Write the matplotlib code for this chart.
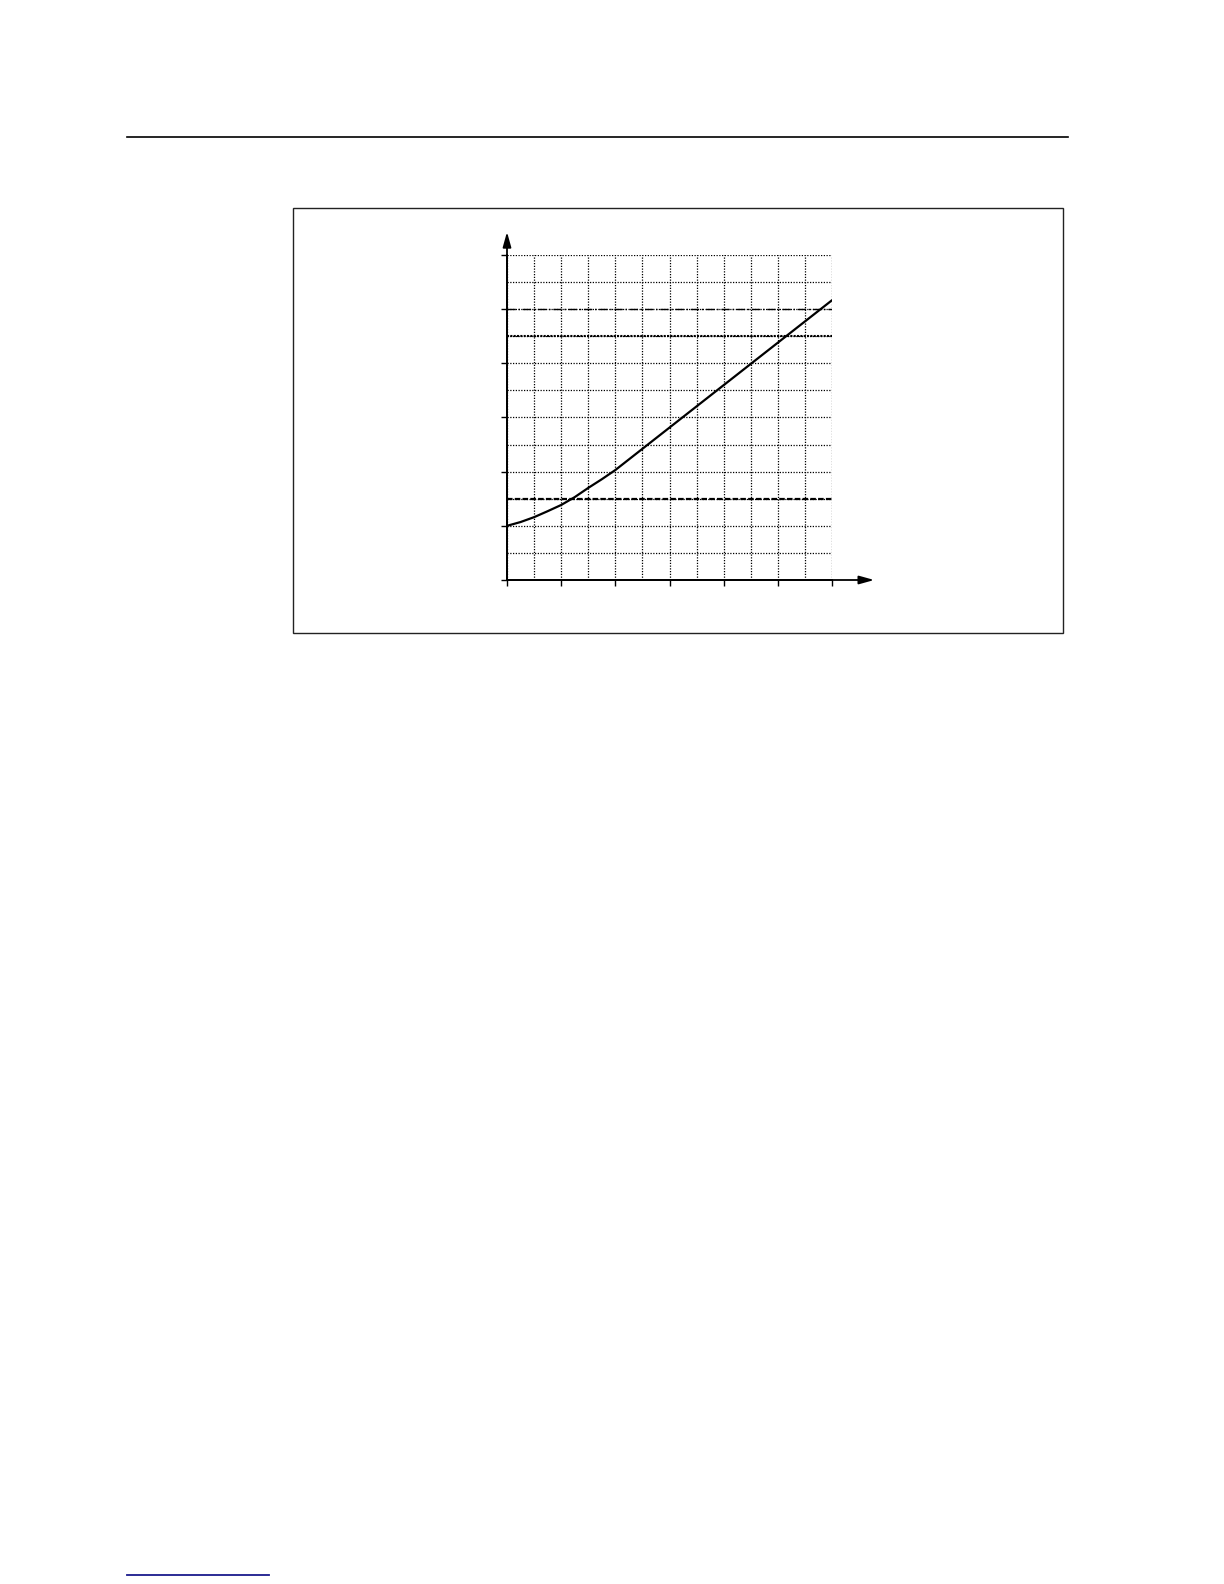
import numpy as np
import matplotlib
matplotlib.use("Agg")
import matplotlib.pyplot as plt
from matplotlib.patches import Rectangle
from matplotlib.lines import Line2D

# curve (1 unit = 2 grid cells)
x_pts = [0.0, 0.25, 0.5, 0.75, 1.0, 1.25, 1.5, 1.75, 2.0, 6.0]
y_pts = [1.0, 1.07, 1.16, 1.27, 1.385, 1.53, 1.70, 1.86, 2.03, 5.165]

x_ticks = [0, 1, 2, 3, 4, 5, 6]
y_ticks = [0, 1, 2, 3, 4, 5, 6]
grid_step = 0.5

# highlighted horizontal levels
level_dashdot = 5.0
level_dotted = 4.5
level_dashed = 1.5

W, H = 1224, 1584
fig = plt.figure(figsize=(W / 100, H / 100), dpi=100)

# page rules and frame (pixel coords -> figure fraction)
fig.add_artist(Line2D([127 / W, 1068 / W], [1 - 137 / H, 1 - 137 / H], color="black", lw=1.2))
fig.add_artist(Line2D([127 / W, 269 / W], [1 - 1575 / H, 1 - 1575 / H], color="#1a1a8c", lw=1.3))
fig.add_artist(Rectangle((293 / W, 1 - 633 / H), (1063 - 293) / W, (633 - 208) / H,
                         fill=False, edgecolor="#222222", lw=1.0))

ax = fig.add_axes([507 / W, 1 - 580 / H, 325 / W, 325 / H])
ax.set_xlim(0, 6)
ax.set_ylim(0, 6)

minor = np.arange(0, 6 + grid_step, grid_step)
ax.set_xticks(minor, minor=True)
ax.set_yticks(minor, minor=True)
ax.set_xticks(x_ticks)
ax.set_yticks(y_ticks)
ax.set_xticklabels([])
ax.set_yticklabels([])
ax.tick_params(which="major", direction="out", length=4, width=1.0, color="black")
ax.tick_params(which="minor", length=0)
ax.grid(which="both", color="black", linestyle=(0, (1, 1.2)), lw=0.9)
ax.set_axisbelow(True)

for s in ["top", "right"]:
    ax.spines[s].set_visible(False)
for s in ["left", "bottom"]:
    ax.spines[s].set_linewidth(1.3)

ax.axhline(level_dashdot, color="black", lw=1.0, linestyle=(0, (6, 2, 1, 2)))
ax.axhline(level_dotted, color="black", lw=1.5, linestyle=(0, (1, 0.6)))
ax.axhline(level_dashed, color="black", lw=1.6, linestyle=(0, (2.5, 1)))

ax.plot(x_pts, y_pts, color="black", lw=1.6, solid_capstyle="round")

arrow = dict(arrowstyle="-|>,head_length=0.9,head_width=0.25", color="black", lw=1.3,
             shrinkA=0, shrinkB=0, mutation_scale=10)
ax.annotate("", xy=(1.13, 0), xytext=(0, 0), xycoords="axes fraction", arrowprops=arrow,
            annotation_clip=False)
ax.annotate("", xy=(0, 1.071), xytext=(0, 0), xycoords="axes fraction", arrowprops=arrow,
            annotation_clip=False)

fig.savefig("out.png", dpi=100)
